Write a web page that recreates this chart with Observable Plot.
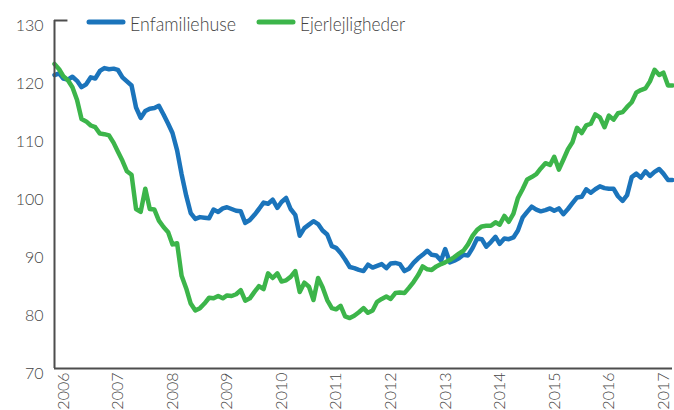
<!DOCTYPE html>
<html>
<head>
<meta charset="utf-8">
<script src="https://cdn.jsdelivr.net/npm/d3@7"></script>
<script src="https://cdn.jsdelivr.net/npm/@observablehq/plot@0.6"></script>
<style>
  html, body { margin: 0; padding: 0; background: #fff; }
  #chart { width: 674px; height: 410px; overflow: hidden; }
</style>
</head>
<body>
<div id="chart"></div>
<script>
const seriesNames = ["Enfamiliehuse", "Ejerlejligheder"];
const seriesColors = ["#1b74bb", "#3cb54a"];
const startMonth = "2006-01";
const yTicks = [70, 80, 90, 100, 110, 120, 130];

const enfamiliehuse = [
  120.6,120.9,120.0,119.8,120.3,119.6,118.5,119.0,120.2,120.0,
  121.3,121.8,121.6,121.7,121.5,120.2,119.5,118.8,115.0,113.2,
  114.4,114.8,114.9,115.3,113.8,112.2,110.6,107.6,103.5,99.8,
  96.8,95.8,96.1,96.0,95.9,97.4,97.0,97.6,97.8,97.5,
  97.2,97.1,95.1,95.6,96.5,97.5,98.6,98.4,99.1,97.7,
  98.7,99.4,97.5,96.5,92.9,94.2,94.8,95.4,94.9,93.8,
  93.1,91.1,90.8,89.9,88.8,87.5,87.3,87.0,86.8,87.9,
  87.4,87.7,88.0,87.3,88.1,88.2,88.0,86.8,87.2,88.2,
  89.0,89.6,90.3,89.6,89.5,88.6,90.6,88.3,88.6,89.0,
  89.6,89.5,90.8,92.4,92.3,91.0,91.8,92.7,91.5,92.4,
  92.3,92.6,93.8,96.0,97.0,97.9,97.4,97.1,97.3,97.6,
  97.2,97.6,96.6,97.5,98.5,99.5,99.6,100.9,100.3,100.9,
  101.4,101.1,101.0,101.0,99.7,98.9,99.9,103.0,103.6,102.9,
  104.0,103.2,103.9,104.4,103.6,102.5,102.5
];

const ejerlejligheder = [
  122.5,121.6,120.4,119.7,118.5,116.3,113.0,112.6,111.9,111.6,
  110.5,110.4,110.2,108.9,107.4,105.8,104.0,103.4,97.5,97.0,
  101.0,97.5,97.4,95.5,94.4,93.5,91.4,91.6,86.0,83.8,
  81.2,80.0,80.4,81.2,82.2,82.1,82.5,82.1,82.6,82.5,
  82.8,83.5,81.7,82.1,83.2,84.2,83.7,86.4,85.6,86.4,
  85.0,85.2,85.8,86.8,83.2,84.8,84.1,81.8,85.6,84.0,
  81.8,80.4,80.2,80.8,79.0,78.7,79.1,79.7,80.4,79.6,
  80.0,81.5,82.0,82.4,82.0,83.0,83.1,83.0,83.9,84.9,
  86.1,87.6,87.1,87.0,87.6,88.0,88.3,88.7,89.2,89.8,
  90.3,91.4,92.9,93.9,94.5,94.6,94.6,95.2,94.8,96.3,
  95.3,96.7,99.4,100.9,102.6,103.0,103.5,104.5,105.4,105.1,
  106.5,104.3,106.0,107.8,109.0,111.5,110.6,111.9,112.2,113.8,
  113.3,111.6,113.6,112.9,114.0,114.2,115.1,115.9,117.6,118.0,
  118.3,119.5,121.5,120.6,121.0,118.8,118.8
];

const start = d3.utcParse("%Y-%m")(startMonth);
const months = enfamiliehuse.map((_, i) => d3.utcMonth.offset(start, i));
const rows = [];
[enfamiliehuse, ejerlejligheder].forEach((vals, s) => {
  vals.forEach((v, i) => rows.push({date: months[i], value: v, series: seriesNames[s]}));
});

const axisColor = "#4d4d4d";
const textColor = "#444444";
const fontFamily = "Lato, 'Open Sans', sans-serif";

const plot = Plot.plot({
  width: 674,
  height: 410,
  marginTop: 20,
  marginBottom: 42,
  marginLeft: 54,
  marginRight: 2,
  style: {fontFamily, color: textColor, background: "#fff", fontWeight: 300},
  x: {type: "utc", domain: [months[0], months[months.length - 1]]},
  y: {domain: [70, 130]},
  color: {domain: seriesNames, range: seriesColors},
  marks: [
    Plot.axisY({ticks: yTicks, tickSize: 0, tickPadding: 11, fontSize: 16, dy: 5, fill: textColor, label: null}),
    Plot.axisX({ticks: d3.utcYear.every(1), tickFormat: d3.utcFormat("%Y"), tickRotate: -90, tickSize: 0, tickPadding: 4, dx: 9, fontSize: 16, fill: textColor, label: null}),
    Plot.line(rows, {x: "date", y: "value", z: "series", stroke: "series", strokeWidth: 4.5, strokeLinejoin: "round", strokeLinecap: "round"}),
    Plot.ruleY([70], {stroke: axisColor, strokeWidth: 2}),
    Plot.ruleX([months[0]], {stroke: axisColor, strokeWidth: 2}),
    Plot.ruleY([130], {x1: months[0], x2: months[3], stroke: axisColor, strokeWidth: 2})
  ]
});
document.getElementById("chart").appendChild(plot);

// legend inside the chart, top area
const svg = d3.select(plot);
const leg = svg.append("g")
  .attr("font-family", fontFamily).attr("font-size", 19).attr("font-weight", 300)
  .attr("fill", textColor).attr("text-anchor", "start");
const legendX = [89, 259];
const legendTextLength = [106, 105];
seriesNames.forEach((name, i) => {
  leg.append("line").attr("x1", legendX[i]).attr("x2", legendX[i] + 34).attr("y1", 22).attr("y2", 22)
    .attr("stroke", seriesColors[i]).attr("stroke-width", 5).attr("stroke-linecap", "round");
  leg.append("text").attr("x", legendX[i] + 41).attr("y", 30.5)
    .attr("textLength", legendTextLength[i]).attr("lengthAdjust", "spacingAndGlyphs")
    .text(name);
});
</script>
</body>
</html>
